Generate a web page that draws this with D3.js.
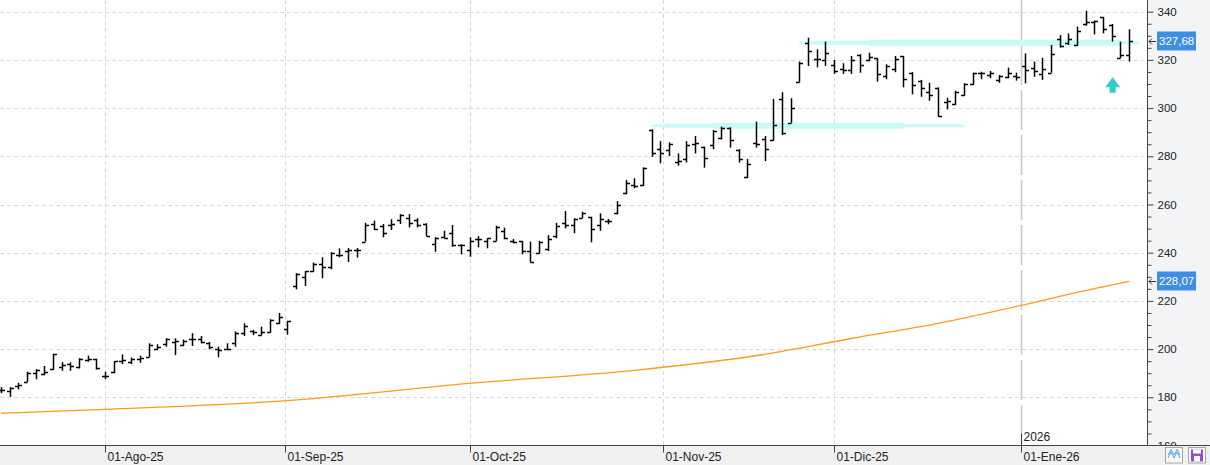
<!DOCTYPE html>
<html>
<head>
<meta charset="utf-8">
<script src="https://cdn.jsdelivr.net/npm/d3@7"></script>
<style>
	html, body { margin: 0; padding: 0; background: #fff; }
	svg { display: block; font-family: "Liberation Sans", Arial, sans-serif; }
</style>
</head>
<body>
<div id="chart"></div>
<script>
// trading calendar (US sessions), Jul 16 2025 -> Jan 21 2026
const firstDay = '2025-07-16';
const lastDay = '2026-01-21';
const holidays = ['2025-09-01', '2025-11-27', '2025-12-25', '2026-01-01', '2026-01-19'];

const opens = [
	183, 182.5, 184.5, 186.5, 190, 189.5, 191.8, 192.5, 194, 192.5, 195.5, 196,
	189, 190.5, 195, 194.5, 196, 196.7, 200, 202, 203, 201.5, 204, 204, 202.5, 200, 200, 202.5, 206.5, 207.5, 206, 207, 211,
	208.3, 226, 229.8, 232.3, 235.2, 234, 239, 240.5, 241, 244.6, 252, 251, 251.5, 253.5, 254.5, 253.5, 252, 243.5, 246.5, 248, 243,
	241, 245.5, 245, 244.9, 249, 245, 244.9, 240.5, 240, 241.5, 247, 252.3, 251.5, 254.5, 254.9, 251.6, 253, 256.3, 264.8, 268, 268, 291, 283,
	282.6, 277.8, 278.8, 285.2, 283.8, 284.6, 287.7, 291.7, 282.6, 271.5, 285.6, 287, 286.8, 303.8, 294, 310.8, 327, 320.2, 320,
	318, 316.3, 315.9, 322, 320, 320.6, 313.3, 316.3, 321.6, 314.4, 311.3, 306.8, 308.2, 302.4, 301.7, 305.6, 309.9, 314.7, 313.8, 311.5, 312.8, 313.2,
	317.4, 316.5, 314.1, 314.7, 328.5, 326.9, 326.2, 334.9, 335.6, 337.7, 334.5, 320.8, 321.9
];
const highs = [
	184.2, 184.2, 186, 190.6, 191.7, 193, 198, 194.6, 194.5, 196.2, 197.3, 196,
	190.6, 195, 197.8, 196.5, 197.3, 202.4, 202, 204.5, 204.5, 204, 206.6, 205.4, 203, 201, 202.4, 207.3, 210.7, 208, 209.3, 212.4, 215,
	211.7, 231.5, 232.4, 235.9, 238.1, 240.2, 241.8, 242, 242, 252.4, 253.3, 251.9, 253.9, 256, 256, 254.3, 252.2, 246.4, 249.1, 251.5, 243.5,
	246.4, 246.9, 246, 251.2, 250.4, 245.7, 244.9, 244.6, 244.9, 247.3, 252.4, 257.3, 254.3, 257, 254.9, 256.3, 254, 261.4, 270.2, 270.9, 275.4, 291.2, 286.3,
	285.8, 281.2, 286.3, 288.4, 284, 290.9, 292.3, 292, 282.9, 278.9, 294.4, 288.4, 303.8, 306.6, 304.1, 319.3, 329.2, 324.4, 327.6,
	320, 318.6, 321.6, 322.4, 323, 320.7, 318.2, 321.6, 321.6, 314.9, 311.7, 310.5, 308.6, 304.3, 307.2, 310.3, 314.7, 315.1, 315.4, 313.7, 316.8, 314.7,
	322.7, 319.3, 320.9, 326.2, 330.3, 331, 333.8, 340.4, 336.3, 337.7, 334.9, 327.6, 332.7
];
const lows = [
	181.7, 180.2, 183.3, 186.4, 187.5, 189.2, 191.4, 191, 191, 192, 194.8, 191.5,
	187.5, 190, 193.8, 193.8, 194.3, 196.6, 199.6, 201, 197.5, 201.3, 201.3, 202.4, 199.9, 196.6, 199.6, 201, 205.4, 205.8, 205.7, 206.8, 210.4,
	206, 224.8, 226.2, 232.1, 229.4, 233.1, 238.1, 236.2, 238, 244.6, 249.4, 246.4, 249.4, 251.9, 250.5, 250.5, 246.9, 240.4, 246, 242.5, 239.3,
	238.3, 242.2, 241.8, 244.9, 245.6, 243.9, 239.3, 236, 239.7, 240.7, 246, 250.1, 248.1, 254.3, 244.3, 249.1, 251.8, 255.9, 264.3, 266.7, 267.7, 279.8, 277.1,
	280.1, 276.1, 277.4, 281.2, 275.3, 282.9, 287, 283.6, 277.4, 270.9, 283.6, 278, 286.5, 288.8, 293.9, 310.7, 317.5, 316.9, 317.5,
	314.2, 314.2, 314.2, 314.7, 319.5, 311, 312, 314.9, 308.6, 305.7, 304.7, 303, 296.4, 299.5, 301.3, 305.1, 309.6, 312, 312.4, 310.5, 312.4, 311.4,
	310.3, 313, 311.7, 314.7, 325.1, 326.2, 325.8, 334.2, 330.6, 331, 327.6, 320.7, 319.3
];
const closes = [
	183, 183.8, 185.2, 190.2, 191.5, 190.5, 197.8, 193.5, 193, 196, 196, 192,
	189, 195, 195.5, 196, 196.5, 201.5, 201, 204, 203.5, 203.5, 204, 203, 201, 199.5, 200, 206.5, 209.5, 207, 207, 212, 213.5,
	211.7, 231, 232.4, 235.5, 234.2, 240, 239.2, 241, 241, 251.7, 250, 248, 252, 255.5, 252.5, 251.5, 247, 246, 246, 243, 243,
	245, 245.5, 246, 250.8, 246, 244.5, 240.5, 236.3, 244.6, 245.5, 251.2, 251.7, 254, 256.3, 249.7, 254, 253, 259.9, 268.8, 267.5, 275.3, 281.2, 281.5,
	285, 278.2, 284.6, 285.6, 279.3, 290.5, 291.7, 286.8, 278.7, 276.7, 285, 283.2, 293, 289.5, 299.9, 318.9, 323.7, 320.2, 323,
	315.4, 315.9, 320, 318, 321, 314.2, 317.4, 320.3, 312.2, 309.6, 308.4, 305.3, 296.7, 303, 306.6, 310, 314.4, 314.5, 314.7, 313.3, 314.5, 313,
	315.7, 315.4, 316.2, 322.3, 325.7, 328.6, 332, 335.6, 336, 332.8, 329.9, 322, 327.68
];

// moving average read at a few sessions
const maDates = ['2025-07-16', '2025-08-01', '2025-09-02', '2025-10-01', '2025-10-28', '2025-11-18',
	'2025-12-03', '2025-12-17', '2026-01-02', '2026-01-12', '2026-01-21'];
const maValues = [173.4, 175.0, 178.6, 185.8, 191.2, 197.8, 204.4, 210.7, 218.5, 223.5, 228.07];

// hand drawn support / resistance levels
const levelValues = [327.1, 292.7];
const levelFrom = ['2025-11-24', '2025-10-30'];
const levelTo = ['2026-01-21', '2025-12-22'];
const levelBoldFrom = ['2025-12-05', '2025-11-10'];
const levelBoldTo = ['2026-01-20', '2025-12-11'];

const signalDate = '2026-01-16';
const signalValue = 312.8;

const yTicks = [160, 180, 200, 220, 240, 260, 280, 300, 320, 340];
const monthStarts = ['2025-08-01', '2025-09-01', '2025-10-01', '2025-11-01', '2025-12-01', '2026-01-01'];
const monthLabels = ['01-Ago-25', '01-Sep-25', '01-Oct-25', '01-Nov-25', '01-Dic-25', '01-Ene-26'];
const yearStart = '2026-01-01';
const yearLabel = '2026';

class BarChart {

	/**
	 * @param {HTMLElement} element
	 */
	constructor(element) {
		this.element = element;
		this.width = 1210;
		this.height = 465;
		this.axisX = 1147.5;
		this.axisY = 445.5;
	}

	create() {
		this.svg = d3.select(this.element).append('svg')
			.attr('width', this.width)
			.attr('height', this.height);

		this.dates = this._tradingDays();
		this.parse = d3.timeParse('%Y-%m-%d');
		this.fmt = d3.timeFormat('%Y-%m-%d');

		this.x = d3.scalePoint().domain(this.dates).range([1, 1129]);
		this.y = d3.scaleLinear().domain([160, 340]).range([this.axisY, 11.7]);

		this._drawBackground();
		this._drawGrid();
		this._drawLevels();
		this._drawAverage();
		this._drawBars();
		this._drawSignal();
		this._drawYAxis();
		this._drawXAxis();
		this._drawTags();
		this._drawButtons();
	}

	/**
	 * @return {string[]}
	 */
	_tradingDays() {
		const parse = d3.timeParse('%Y-%m-%d');
		const fmt = d3.timeFormat('%Y-%m-%d');
		const end = d3.timeDay.offset(parse(lastDay), 1);
		return d3.timeDays(parse(firstDay), end)
			.filter(d => d.getDay() !== 0 && d.getDay() !== 6)
			.map(fmt)
			.filter(s => !holidays.includes(s));
	}

	/**
	 * x position of any calendar day, between the sessions around it
	 * @param {string} s
	 * @return {number}
	 */
	_dayX(s) {
		if (this.x(s) !== undefined) return this.x(s);
		const t = this.parse(s);
		const next = this.dates.findIndex(d => this.parse(d) > t);
		const a = this.parse(this.dates[next - 1]);
		const b = this.parse(this.dates[next]);
		const k = (t - a) / (b - a);
		return this.x(this.dates[next - 1]) + k * (this.x(this.dates[next]) - this.x(this.dates[next - 1]));
	}

	_drawBackground() {
		this.svg.append('rect')
			.attr('width', this.width).attr('height', this.height)
			.attr('fill', '#fff');
		this.svg.append('rect')
			.attr('x', this.axisX).attr('y', 0)
			.attr('width', this.width - this.axisX).attr('height', this.height)
			.attr('fill', '#f3f4f6');
	}

	_drawGrid() {
		const g = this.svg.append('g')
			.attr('stroke', '#d9d9d9')
			.attr('stroke-width', 1)
			.attr('stroke-dasharray', '4,3');

		g.selectAll('line.h')
			.data(yTicks.filter(v => v > 160))
			.join('line')
			.attr('x1', 0).attr('x2', this.axisX - 4)
			.attr('y1', d => Math.round(this.y(d)) + 0.5)
			.attr('y2', d => Math.round(this.y(d)) + 0.5);

		g.selectAll('line.v')
			.data(monthStarts.filter(d => d !== yearStart))
			.join('line')
			.attr('x1', d => Math.round(this._dayX(d)) + 0.5)
			.attr('x2', d => Math.round(this._dayX(d)) + 0.5)
			.attr('y1', 0).attr('y2', this.axisY);

		const yx = Math.round(this._dayX(yearStart)) + 0.5;
		this.svg.append('line')
			.attr('x1', yx).attr('x2', yx)
			.attr('y1', 0).attr('y2', this.axisY)
			.attr('stroke', '#c8c8c8')
			.attr('stroke-width', 1.5)
			.attr('stroke-dasharray', '40,5');
	}

	_drawLevels() {
		const g = this.svg.append('g')
			.attr('stroke', '#c8fafa')
			.attr('stroke-linecap', 'butt');

		levelValues.forEach((v, i) => {
			const y = this.y(v);
			const extra = levelTo[i] === lastDay ? 10 : 0;
			g.append('line')
				.attr('x1', this.x(levelFrom[i])).attr('x2', this.x(levelTo[i]) + extra)
				.attr('y1', y).attr('y2', y)
				.attr('stroke-width', 3);
			g.append('line')
				.attr('x1', this.x(levelFrom[i]) + 14).attr('x2', this.x(levelBoldFrom[i]))
				.attr('y1', y).attr('y2', y)
				.attr('stroke-width', 4);
			g.append('line')
				.attr('x1', this.x(levelBoldFrom[i])).attr('x2', this.x(levelBoldTo[i]))
				.attr('y1', y).attr('y2', y)
				.attr('stroke-width', 6);
		});
	}

	_drawAverage() {
		const pts = maDates.map((d, i) => [this.x(d), this.y(maValues[i])]);
		this.svg.append('path')
			.attr('d', d3.line().curve(d3.curveMonotoneX)(pts))
			.attr('fill', 'none')
			.attr('stroke', '#ff9a1a')
			.attr('stroke-width', 1.3);
	}

	_drawBars() {
		const data = this.dates.map((d, i) => ({
			date: d, o: opens[i], h: highs[i], l: lows[i], c: closes[i]
		}));
		const px = d => Math.round(this.x(d.date)) + 0.5;

		const g = this.svg.append('g')
			.attr('stroke', '#000')
			.attr('stroke-width', 1.5);

		const bars = g.selectAll('g')
			.data(data)
			.join('g');

		bars.append('line')
			.attr('x1', px).attr('x2', px)
			.attr('y1', d => this.y(d.h))
			.attr('y2', d => this.y(d.l));

		bars.append('line')
			.attr('x1', d => px(d) - 3.5).attr('x2', px)
			.attr('y1', d => Math.round(this.y(d.o)) + 0.5)
			.attr('y2', d => Math.round(this.y(d.o)) + 0.5);

		bars.append('line')
			.attr('x1', px).attr('x2', d => px(d) + 3.5)
			.attr('y1', d => Math.round(this.y(d.c)) + 0.5)
			.attr('y2', d => Math.round(this.y(d.c)) + 0.5);
	}

	_drawSignal() {
		const cx = this.x(signalDate) + 1;
		const top = this.y(signalValue);
		const pts = [[0, 0], [7.5, 10], [3, 10], [3, 15.5], [-3, 15.5], [-3, 10], [-7.5, 10]];
		this.svg.append('polygon')
			.attr('points', pts.map(p => [cx + p[0], top + p[1]].join(',')).join(' '))
			.attr('fill', '#33cccc');
	}

	_drawYAxis() {
		const minor = d3.range(160, 341, 5).filter(v => v % 20 !== 0);

		this.svg.append('line')
			.attr('x1', this.axisX).attr('x2', this.axisX)
			.attr('y1', 0).attr('y2', this.axisY)
			.attr('stroke', '#444');

		this.svg.append('g')
			.attr('transform', `translate(${this.axisX},0)`)
			.call(d3.axisRight(this.y).tickValues(minor).tickSize(4).tickSizeOuter(0).tickFormat(''))
			.call(g => g.select('.domain').remove())
			.call(g => g.selectAll('line').attr('stroke', '#444'));

		this.svg.append('g')
			.attr('transform', `translate(${this.axisX},0)`)
			.call(d3.axisRight(this.y).tickValues(yTicks).tickSize(6).tickSizeOuter(0).tickPadding(4))
			.call(g => g.select('.domain').remove())
			.call(g => g.selectAll('line').attr('stroke', '#444'))
			.call(g => g.selectAll('text')
				.attr('font-family', '"Liberation Sans", Arial, sans-serif')
				.attr('font-size', 11.5)
				.attr('fill', '#222'));
	}

	_drawXAxis() {
		this.svg.append('rect')
			.attr('x', 0).attr('y', this.axisY)
			.attr('width', this.width).attr('height', this.height - this.axisY)
			.attr('fill', '#f0f0f0');

		this.svg.append('line')
			.attr('x1', 0).attr('x2', this.width)
			.attr('y1', this.axisY).attr('y2', this.axisY)
			.attr('stroke', '#444');

		const ticks = this.svg.append('g')
			.selectAll('g')
			.data(monthStarts)
			.join('g')
			.attr('transform', d => `translate(${Math.round(this._dayX(d)) + 0.5},${this.axisY})`);

		ticks.append('line')
			.attr('y1', 0).attr('y2', 7)
			.attr('stroke', '#444');

		ticks.append('text')
			.attr('x', 2).attr('y', 15)
			.attr('font-size', 12)
			.attr('fill', '#222')
			.text((d, i) => monthLabels[i]);

		const yx = Math.round(this._dayX(yearStart)) + 0.5;
		this.svg.append('line')
			.attr('x1', yx).attr('x2', yx)
			.attr('y1', this.axisY - 12).attr('y2', this.axisY)
			.attr('stroke', '#444');
		this.svg.append('text')
			.attr('x', yx + 2).attr('y', this.axisY - 5)
			.attr('font-size', 12)
			.attr('fill', '#222')
			.text(yearLabel);
	}

	_drawTags() {
		const label = v => d3.format('.2f')(v).replace('.', ',');
		const tags = [closes[closes.length - 1], maValues[maValues.length - 1]];

		const g = this.svg.append('g')
			.selectAll('g')
			.data(tags)
			.join('g')
			.attr('transform', d => `translate(0,${Math.round(this.y(d))})`);

		g.append('rect')
			.attr('x', 1157).attr('y', -9.5)
			.attr('width', 39).attr('height', 19)
			.attr('fill', '#3d8ee4');

		g.append('text')
			.attr('x', 1159).attr('y', 4)
			.attr('font-size', 11.5)
			.attr('fill', '#fff')
			.text(label);

		g.append('path')
			.attr('d', 'M1156,0.5H1149M1152,-2.5L1149,0.5L1152,3.5')
			.attr('fill', 'none')
			.attr('stroke', '#333');
	}

	_drawButtons() {
		const g = this.svg.append('g');

		g.append('rect')
			.attr('x', 1165.5).attr('y', 447.5)
			.attr('width', 17).attr('height', 15.5)
			.attr('fill', '#f8f8f8').attr('stroke', '#a8a8a8');
		g.append('path')
			.attr('d', 'M1168,458L1171,452L1174,458L1177,452L1180,458M1168,455L1171,449.5L1174,455L1177,449.5L1180,455')
			.attr('fill', 'none')
			.attr('stroke', '#5a9fdc')
			.attr('stroke-width', 1);

		g.append('rect')
			.attr('x', 1188.5).attr('y', 447.5)
			.attr('width', 17).attr('height', 15.5)
			.attr('fill', '#f8f8f8').attr('stroke', '#a8a8a8');
		g.append('rect')
			.attr('x', 1191).attr('y', 449.5)
			.attr('width', 12).attr('height', 12)
			.attr('fill', '#8e4fc9');
		g.append('rect')
			.attr('x', 1193).attr('y', 449.5)
			.attr('width', 8).attr('height', 4)
			.attr('fill', '#fff');
		g.append('rect')
			.attr('x', 1194).attr('y', 456)
			.attr('width', 6).attr('height', 5.5)
			.attr('fill', '#fff');
	}
}

const chart = new BarChart(document.getElementById('chart'));
chart.create();
</script>
</body>
</html>
